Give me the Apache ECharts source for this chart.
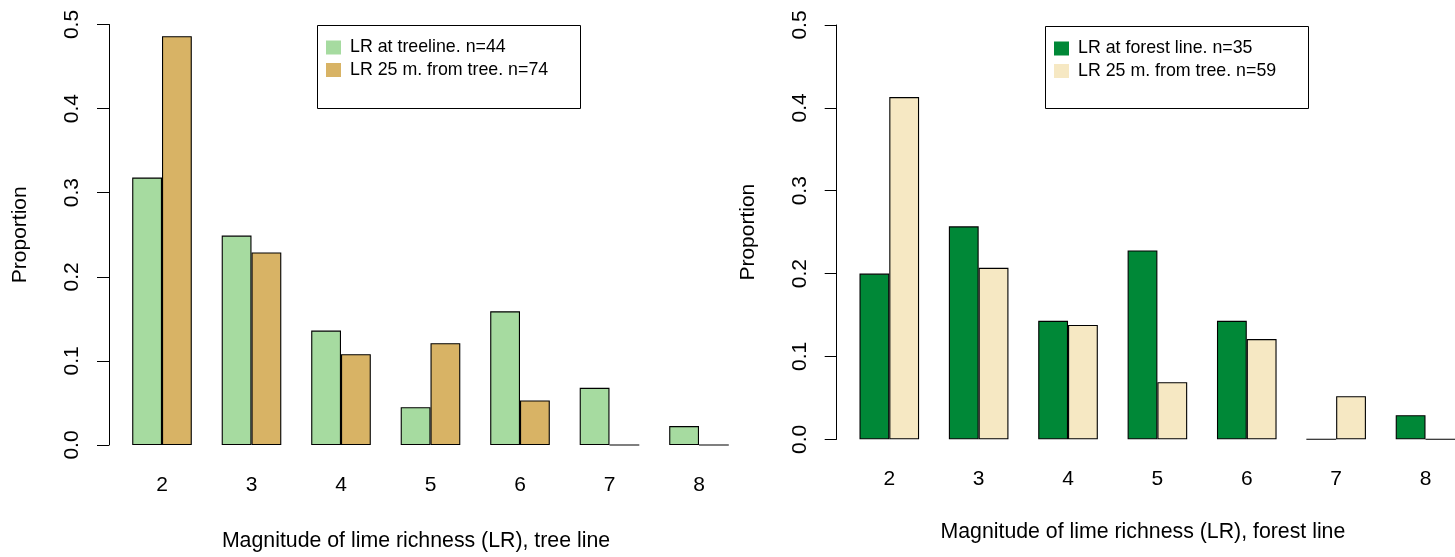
<!DOCTYPE html>
<html>
<head>
<meta charset="utf-8">
<script src="https://cdn.jsdelivr.net/npm/echarts@6/dist/echarts.min.js"></script>
<style>
html,body{margin:0;padding:0;background:#fff;overflow:hidden;}
#chart{width:1480px;height:557px;}
</style>
</head>
<body>
<div id="chart"></div>
<script>
// ---- data ----
const categories = ['2', '3', '4', '5', '6', '7', '8'];
const treeAtLine = [0.318, 0.249, 0.136, 0.045, 0.159, 0.068, 0.0225];
const tree25m = [0.486, 0.229, 0.108, 0.121, 0.053, 0, 0];
const forestAtLine = [0.200, 0.257, 0.143, 0.228, 0.143, 0, 0.029];
const forest25m = [0.413, 0.207, 0.138, 0.069, 0.121, 0.052, 0];
const seriesNames = ['LR at treeline. n=44', 'LR 25 m. from tree. n=74', 'LR at forest line. n=35', 'LR 25 m. from tree. n=59'];
const xTitles = ['Magnitude of lime richness (LR), tree line', 'Magnitude of lime richness (LR), forest line'];
const yTitle = 'Proportion';
const yMin = 0, yMax = 0.5, yStep = 0.1;

const FONT = '"Liberation Sans", Arial, Helvetica, sans-serif';
const colors = ['#a6dba0', '#d8b365', '#008837', '#f6e8c3'];

const chart = echarts.init(document.getElementById('chart'), null, {renderer: 'canvas'});

function xAxisCfg(gridIndex, title, namePad, labelMargin, nameGap) {
  return {
    type: 'category', gridIndex: gridIndex, data: categories,
    axisLine: {show: false}, axisTick: {show: false},
    axisLabel: {fontFamily: FONT, fontSize: 21, color: '#000', margin: labelMargin},
    name: title, nameLocation: 'middle', nameGap: nameGap,
    nameTextStyle: {fontFamily: FONT, fontSize: 21.3, color: '#000', padding: namePad}
  };
}
function yAxisCfg(gridIndex, offset) {
  return {
    type: 'value', gridIndex: gridIndex, min: yMin, max: yMax, interval: yStep,
    offset: offset,
    splitLine: {show: false},
    axisLine: {show: true, lineStyle: {color: '#000', width: 1}},
    axisTick: {show: true, length: 12, lineStyle: {color: '#000', width: 1}},
    axisLabel: {rotate: 90, fontFamily: FONT, fontSize: 21, color: '#000', margin: 26,
      formatter: v => v.toFixed(1)},
    name: yTitle, nameLocation: 'middle', nameRotate: 90, nameGap: 78,
    nameTextStyle: {fontFamily: FONT, fontSize: 21, color: '#000'}
  };
}
function barSeries(name, data, idx, color) {
  return {
    type: 'bar', name: name, data: data, xAxisIndex: idx, yAxisIndex: idx,
    barWidth: 29.8, barGap: '0%',
    itemStyle: {color: color, borderColor: '#000', borderWidth: 1.1},
    emphasis: {disabled: true}, animation: false
  };
}
function legendCfg(names, left, top) {
  return {
    orient: 'vertical', left: left, top: top, data: names,
    itemWidth: 15, itemHeight: 14, itemGap: 4.5, padding: 0,
    icon: 'rect', itemStyle: {borderWidth: 0},
    textStyle: {fontFamily: FONT, fontSize: 17.8, color: '#000', padding: [0, 0, 0, 4]},
    selectedMode: false
  };
}

chart.setOption({
  backgroundColor: '#fff',
  animation: false,
  grid: [
    {left: 117.25, top: 24.5, width: 626.5, height: 421.5},
    {left: 844.6, top: 25, width: 625.6, height: 414.3}
  ],
  xAxis: [xAxisCfg(0, xTitles[0], [0, 29, 0, 0], 30, 86), xAxisCfg(1, xTitles[1], [0, 29, 0, 0], 29, 82)],
  yAxis: [yAxisCfg(0, 8.25), yAxisCfg(1, 7.9)],
  legend: [
    legendCfg([seriesNames[0], seriesNames[1]], 326, 38.5),
    legendCfg([seriesNames[2], seriesNames[3]], 1054, 39.5)
  ],
  graphic: [
    {type: 'rect', shape: {x: 317.5, y: 25.5, width: 263, height: 83}, style: {fill: null, stroke: '#000', lineWidth: 1}, silent: true},
    {type: 'rect', shape: {x: 1045.5, y: 26.5, width: 263, height: 82}, style: {fill: null, stroke: '#000', lineWidth: 1}, silent: true}
  ],
  series: [
    barSeries(seriesNames[0], treeAtLine, 0, colors[0]),
    barSeries(seriesNames[1], tree25m, 0, colors[1]),
    barSeries(seriesNames[2], forestAtLine, 1, colors[2]),
    barSeries(seriesNames[3], forest25m, 1, colors[3])
  ]
});
</script>
</body>
</html>
